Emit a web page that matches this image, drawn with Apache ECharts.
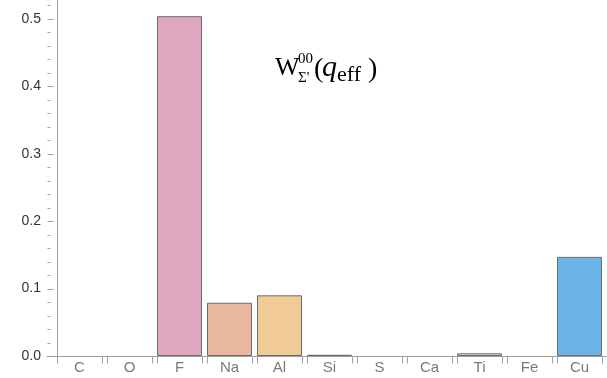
<!DOCTYPE html>
<html>
<head>
<meta charset="utf-8">
<script src="https://cdn.jsdelivr.net/npm/echarts@6/dist/echarts.min.js"></script>
<style>html,body{margin:0;padding:0;background:#fff}#c{width:607px;height:378px}</style>
</head>
<body>
<div id="c"></div>
<script>
var categories = ['C', 'O', 'F', 'Na', 'Al', 'Si', 'S', 'Ca', 'Ti', 'Fe', 'Cu'];
var values = [0, 0, 0.504, 0.079, 0.090, 0.0018, 0, 0, 0.004, 0, 0.147];
var barColors = ['#9fb7d8', '#e0a8a0', '#dfa7bf', '#e8b79e', '#f1cb97', '#a39f86', '#c6d4a0', '#b0d0e0', '#d4e9d6', '#d8c8a8', '#6ab4ea'];
var yTicks = [0, 0.1, 0.2, 0.3, 0.4, 0.5];
var yMinorTicks = [0.02, 0.04, 0.06, 0.08, 0.12, 0.14, 0.16, 0.18, 0.22, 0.24, 0.26, 0.28,
                   0.32, 0.34, 0.36, 0.38, 0.42, 0.44, 0.46, 0.48, 0.52];

var BAR_FRAC = 0.9;
var X_MIN = -0.2;
var labelPos = categories.map(function (c, i) { return i + BAR_FRAC / 2; });
var tickPos = [];
categories.forEach(function (c, i) { tickPos.push(i, i + BAR_FRAC); });

var chart = echarts.init(document.getElementById('c'), null, { renderer: 'canvas' });
var serif = '"Liberation Serif", "DejaVu Serif", serif';
var AX = '#a0a0a0';
function t(text, x, y, font, extra) {
  var style = { text: text, font: font, fill: '#000', verticalAlign: 'middle', align: 'left' };
  if (extra) { for (var k in extra) style[k] = extra[k]; }
  return { type: 'text', x: x, y: y, silent: true, style: style };
}
var tickData = [];
tickPos.forEach(function (p) { tickData.push([p, 0, 0, 7]); });
yTicks.forEach(function (v) { tickData.push([X_MIN, v, 6, 0]); });
yMinorTicks.forEach(function (v) { tickData.push([X_MIN, v, 3, 0]); });

chart.setOption({
  animation: false,
  grid: { left: 47, right: 0, top: 0, bottom: 22, containLabel: false },
  xAxis: {
    type: 'value', min: X_MIN, max: 11,
    axisLine: { show: true, onZero: false, lineStyle: { color: AX, width: 1 } },
    axisTick: { show: false },
    axisLabel: {
      customValues: labelPos, color: '#7a7a7a', fontSize: 15, margin: 4,
      fontFamily: '"Liberation Sans", Arial, sans-serif',
      formatter: function (v) { return categories[Math.round(v - BAR_FRAC / 2)]; }
    },
    splitLine: { show: false }
  },
  yAxis: {
    type: 'value', min: 0, max: 0.528, interval: 0.1,
    axisLine: { show: true, lineStyle: { color: AX, width: 1 } },
    axisTick: { show: false },
    minorTick: { show: false },
    axisLabel: {
      color: '#333', fontSize: 14, margin: 6, showMaxLabel: false,
      fontFamily: '"Liberation Sans", Arial, sans-serif',
      formatter: function (v) { return v.toFixed(1); }
    },
    splitLine: { show: false }
  },
  series: [{
    type: 'bar',
    barWidth: 45,
    data: values.map(function (v, i) {
      return v > 0 ? { value: [labelPos[i], v], itemStyle: { color: barColors[i] } } : { value: [labelPos[i], '-'] };
    }),
    itemStyle: { borderColor: '#6b6b6b', borderWidth: 1 }
  }, {
    type: 'custom',
    clip: false,
    silent: true,
    data: tickData,
    renderItem: function (params, api) {
      var pt = api.coord([api.value(0), api.value(1)]);
      var x = Math.round(pt[0]) + 0.5, y = Math.round(pt[1]) + 0.5;
      return {
        type: 'line',
        shape: { x1: x, y1: y, x2: x + api.value(2), y2: y + api.value(3) },
        style: { stroke: AX, lineWidth: 1 }
      };
    }
  }],
  graphic: [
    t('W', 275, 68, '26px ' + serif),
    t('00', 298, 59.5, '15px ' + serif),
    t("\u03A3'", 298, 78, '15px ' + serif),
    t('(', 314, 69.5, '28px ' + serif),
    t('q', 322, 68, 'italic 30px ' + serif),
    t('eff', 337, 75.5, '22px ' + serif, { letterSpacing: 1 }),
    t(')', 368, 69.5, '28px ' + serif)
  ]
});
</script>
</body>
</html>
